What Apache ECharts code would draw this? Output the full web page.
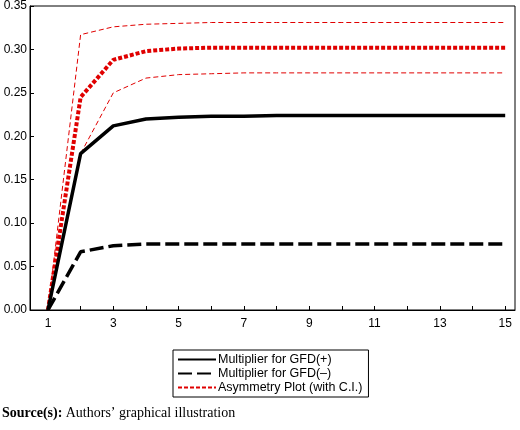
<!DOCTYPE html>
<html><head><meta charset="utf-8">
<script src="https://cdn.jsdelivr.net/npm/echarts@6/dist/echarts.min.js"></script>
<style>html,body{margin:0;padding:0;background:#fff}#c{width:520px;height:430px}</style>
</head><body><div id="c"></div>
<script>
const periods = [1,2,3,4,5,6,7,8,9,10,11,12,13,14,15];
const xTickLabels = [1,3,5,7,9,11,13,15];
const gfdPos = [0,0.180,0.212,0.220,0.222,0.223,0.223,0.224,0.224,0.224,0.224,0.224,0.224,0.224,0.224];
const gfdNeg = [0,0.067,0.074,0.076,0.076,0.076,0.076,0.076,0.076,0.076,0.076,0.076,0.076,0.076,0.076];
const asym = [0,0.245,0.288,0.298,0.301,0.302,0.302,0.302,0.302,0.302,0.302,0.302,0.302,0.302,0.302];
const asymUp = [0,0.317,0.326,0.329,0.330,0.331,0.331,0.331,0.331,0.331,0.331,0.331,0.331,0.331,0.331];
const asymLo = [0,0.180,0.250,0.267,0.271,0.272,0.273,0.273,0.273,0.273,0.273,0.273,0.273,0.273,0.273];
const pts = a => periods.map((p,i)=>[p,a[i]]);
const chart = echarts.init(document.getElementById('c'));
const font = 'Arial, Liberation Sans, sans-serif';
chart.setOption({
  animation:false,
  grid:{left:30,right:5,top:5,bottom:120,show:true,borderColor:'#000',borderWidth:1},
  xAxis:{type:'value',min:0.45,max:15.3,
    axisLine:{lineStyle:{color:'#000'}},
    axisTick:{customValues:periods,inside:true,lineStyle:{color:'#000'},length:4},
    axisLabel:{customValues:xTickLabels,color:'#000',fontFamily:font,fontSize:12},
    splitLine:{show:false}},
  yAxis:{type:'value',min:0,max:0.35,interval:0.05,
    axisLine:{show:true,lineStyle:{color:'#000'}},
    axisTick:{show:true,inside:true,lineStyle:{color:'#000'},length:4},
    axisLabel:{formatter:v=>v.toFixed(2),color:'#000',fontFamily:font,fontSize:12,margin:3},
    splitLine:{show:false}},
  legend:{orient:'vertical',left:173,top:350,itemGap:1,itemWidth:38,itemHeight:8,
    padding:[3,6,3,4],borderColor:'#000',borderWidth:1,
    itemStyle:{opacity:0},
    textStyle:{fontFamily:font,fontSize:12.5,color:'#000',padding:[0,0,0,-3]},
    data:['Multiplier for GFD(+)','Multiplier for GFD(–)','Asymmetry Plot (with C.I.)']},
  series:[
    {name:'Asymmetry Plot (with C.I.)',type:'line',symbol:'none',data:pts(asym),lineStyle:{color:'#e00000',width:4,type:[4,2]},itemStyle:{color:'#e00000'},z:3},
    {name:'upper',type:'line',symbol:'none',data:pts(asymUp),lineStyle:{color:'#e00000',width:1,type:[5,3]}},
    {name:'lower',type:'line',symbol:'none',data:pts(asymLo),lineStyle:{color:'#e00000',width:1,type:[5,3]}},
    {name:'Multiplier for GFD(+)',type:'line',symbol:'none',data:pts(gfdPos),lineStyle:{color:'#000',width:3.5},itemStyle:{color:'#000'},z:4},
    {name:'Multiplier for GFD(–)',type:'line',symbol:'none',data:pts(gfdNeg),lineStyle:{color:'#000',width:3.5,type:[14,5]},itemStyle:{color:'#000'},z:4}
  ],
  graphic:[{type:'text',left:2,top:406,style:{rich:{b:{fontWeight:'bold',fontFamily:'Liberation Serif',fontSize:14,fill:'#000'},n:{fontFamily:'Liberation Serif',fontSize:14,fill:'#000'}},text:'{b|Source(s):} {n|Authors’ graphical illustration}'}}]
});
</script></body></html>
